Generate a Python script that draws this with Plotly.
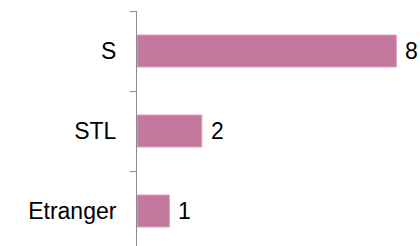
import plotly.graph_objects as go

categories = ["Etranger", "STL", "S"]
values = [1, 2, 8]
labels = ["1", "2", "8"]

FONT = "Liberation Sans, Arial"

fig = go.Figure(go.Bar(
    y=categories, x=values, orientation="h",
    marker=dict(color="#C5789E", line=dict(color="#D9A2BC", width=1)),
    hoverinfo="skip",
))
for cat, val, lab in zip(categories, values, labels):
    fig.add_annotation(x=val, y=cat, text=lab, showarrow=False,
                       xanchor="left", yanchor="middle", xshift=7,
                       font=dict(family=FONT, size=23, color="#000000"))
fig.update_layout(
    width=420, height=246,
    margin=dict(l=137, r=0, t=11, b=0, autoexpand=False),
    paper_bgcolor="white", plot_bgcolor="white",
    bargap=0.6, showlegend=False,
    font=dict(family=FONT, size=23, color="#000000"),
    xaxis=dict(range=[0, 8.73], visible=False, fixedrange=True),
    yaxis=dict(type="category", range=[-0.4375, 2.5], tickson="boundaries",
               ticks="outside", ticklen=6, tickcolor="#8C8C8C", tickwidth=1,
               showline=True, linecolor="#8C8C8C", linewidth=1,
               showgrid=False, ticklabelstandoff=15, automargin=False,
               fixedrange=True,
               tickfont=dict(family=FONT, size=23, color="#000000")),
)
fig.write_html("out.html", config={"displayModeBar": False},
               post_script="document.body.style.margin='0';")
